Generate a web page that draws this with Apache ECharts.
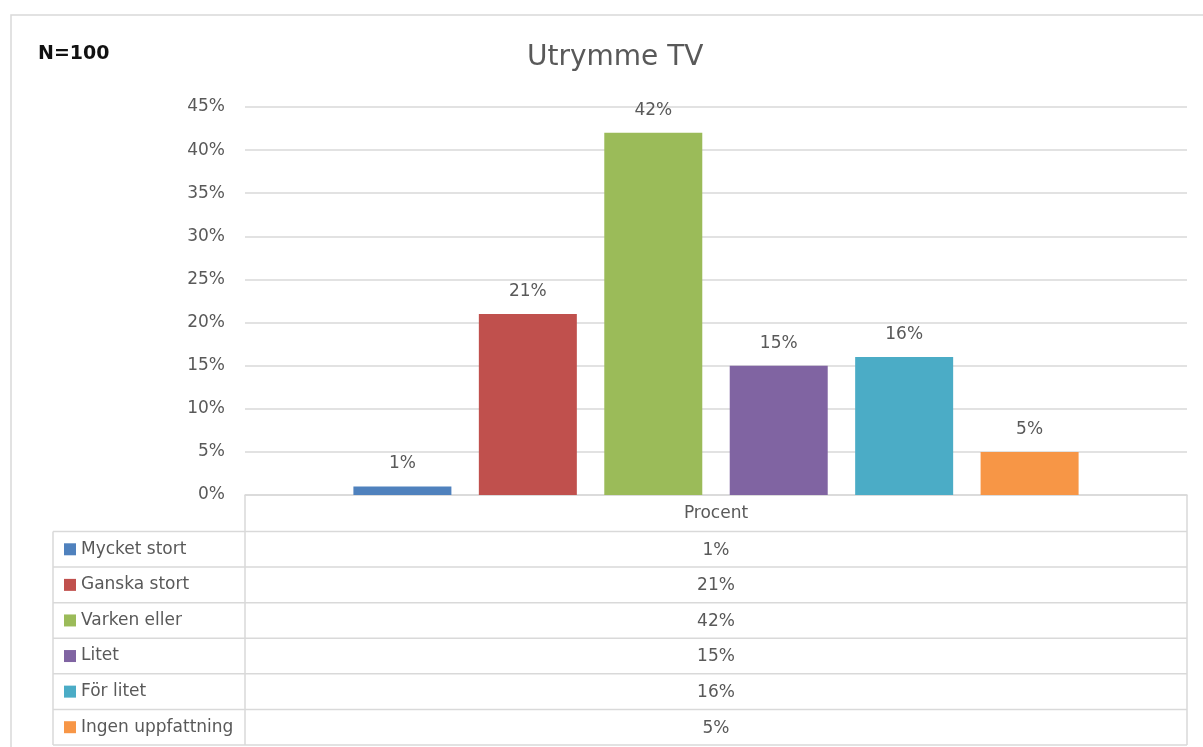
<!DOCTYPE html>
<html>
<head>
<meta charset="utf-8">
<title>Utrymme TV</title>
<script src="https://cdn.jsdelivr.net/npm/echarts@6/dist/echarts.min.js"></script>
<style>
  html, body { margin: 0; padding: 0; background: #fff; }
  #chart { width: 1203px; height: 747px; }
</style>
</head>
<body>
<div id="chart"></div>
<script>
// data
var answers = ['Mycket stort', 'Ganska stort', 'Varken eller', 'Litet', 'För litet', 'Ingen uppfattning'];
var percent = [1, 21, 42, 15, 16, 5];
var categories = ['Procent'];
var colors = ['#4F81BD', '#C0504D', '#9BBB59', '#8064A2', '#4BACC6', '#F79646'];

var FONT = 'DejaVu Sans';
var TXT = '#595959';
var LINE = '#d9d9d9';

// table layout
var plotLeft = 245, plotRight = 1187, axisY = 495;
var tableLeft = 53, headerBottom = 531.5, tableBottom = 745;
var rowH = (tableBottom - headerBottom) / answers.length;

var chart = echarts.init(document.getElementById('chart'));

var series = answers.map(function(name, i) {
	return {
		name: name,
		type: 'bar',
		data: [percent[i]],
		barWidth: 98,
		barGap: '28%',
		itemStyle: { color: colors[i] },
		label: {
			show: true,
			position: 'top',
			distance: 14,
			formatter: '{c}%',
			color: TXT,
			fontFamily: FONT,
			fontSize: 17
		}
	};
});

var graphics = [];
// outer chart border
graphics.push({
	type: 'rect',
	shape: { x: 11, y: 15, width: 1300, height: 800 },
	style: { fill: null, stroke: LINE, lineWidth: 1.5 },
	silent: true
});
// table horizontal lines
for (var r = 0; r <= answers.length; r++) {
	var y = headerBottom + r * rowH;
	graphics.push({
		type: 'line',
		shape: { x1: tableLeft, y1: y, x2: plotRight, y2: y },
		style: { stroke: LINE, lineWidth: 1.5 },
		silent: true
	});
}
// table vertical lines
graphics.push({
	type: 'line',
	shape: { x1: plotLeft, y1: axisY, x2: plotLeft, y2: tableBottom },
	style: { stroke: LINE, lineWidth: 1.5 }, silent: true
});
graphics.push({
	type: 'line',
	shape: { x1: plotRight, y1: axisY, x2: plotRight, y2: tableBottom },
	style: { stroke: LINE, lineWidth: 1.5 }, silent: true
});
graphics.push({
	type: 'line',
	shape: { x1: tableLeft, y1: headerBottom, x2: tableLeft, y2: tableBottom },
	style: { stroke: LINE, lineWidth: 1.5 }, silent: true
});
// table values
percent.forEach(function(v, i) {
	graphics.push({
		type: 'text',
		x: (plotLeft + plotRight) / 2,
		y: headerBottom + (i + 0.5) * rowH + 1,
		style: {
			text: v + '%',
			fill: TXT,
			font: '17px "' + FONT + '"',
			align: 'center',
			verticalAlign: 'middle'
		},
		silent: true
	});
});
// N label
graphics.push({
	type: 'text',
	left: 38,
	top: 45,
	style: { text: 'N=100', fill: '#111', font: 'bold 19px "' + FONT + '"' },
	silent: true
});

var option = {
	animation: false,
	backgroundColor: '#fff',
	title: {
		text: 'Utrymme TV',
		left: 522,
		top: 39,
		textStyle: { color: TXT, fontFamily: FONT, fontSize: 28, fontWeight: 'normal' }
	},
	legend: {
		orient: 'vertical',
		left: 59,
		top: headerBottom + rowH / 2 - 14,
		itemWidth: 12,
		itemHeight: 12,
		itemGap: rowH - 18,
		icon: 'rect',
		selectedMode: false,
		data: answers,
		textStyle: { color: TXT, fontFamily: FONT, fontSize: 17, lineHeight: 18 }
	},
	grid: {
		left: plotLeft,
		right: 1203 - plotRight,
		top: 107,
		bottom: 747 - axisY
	},
	xAxis: {
		type: 'category',
		data: categories,
		axisLine: { show: true, lineStyle: { color: LINE, width: 1.5 } },
		axisTick: { show: false },
		axisLabel: { color: TXT, fontFamily: FONT, fontSize: 17, margin: 10 }
	},
	yAxis: {
		type: 'value',
		min: 0,
		max: 45,
		interval: 5,
		axisLine: { show: false },
		axisTick: { show: false },
		axisLabel: { formatter: '{value}%', color: TXT, fontFamily: FONT, fontSize: 17, margin: 20 },
		splitLine: { lineStyle: { color: LINE, width: 1.5 } }
	},
	graphic: graphics,
	series: series
};

chart.setOption(option);
</script>
</body>
</html>
